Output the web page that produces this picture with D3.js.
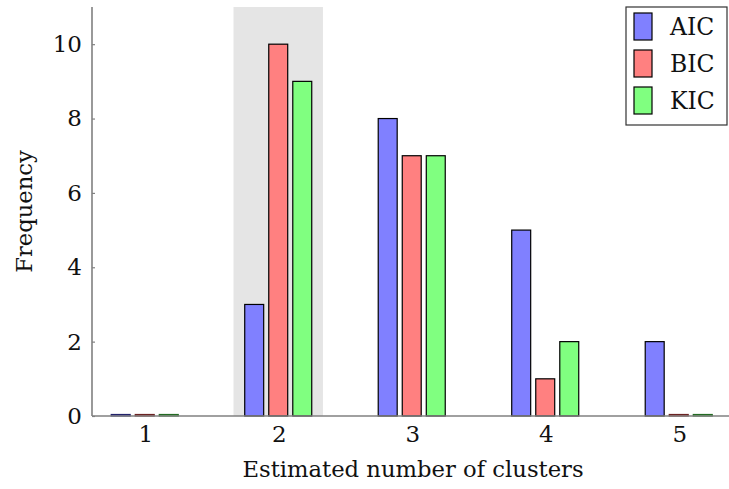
<!DOCTYPE html>
<html>
<head>
<meta charset="utf-8">
<script src="https://cdn.jsdelivr.net/npm/d3@7"></script>
<style>
body { margin: 0; background: #fff; }
text { font-family: "DejaVu Serif", serif; fill: #111; }
</style>
</head>
<body>
<div id="chart"></div>
<script>
var clusters = [1, 2, 3, 4, 5];
var seriesNames = ["AIC", "BIC", "KIC"];
var aic = [0, 3, 8, 5, 2];
var bic = [0, 10, 7, 1, 0];
var kic = [0, 9, 7, 2, 0];
var yTicks = [0, 2, 4, 6, 8, 10];
var highlight = [1.66, 2.33];

var colors = {AIC: "#8080ff", BIC: "#ff8080", KIC: "#80ff80"};
var strokes = {AIC: "#23236b", BIC: "#6b2323", KIC: "#236b23"};
var values = {AIC: aic, BIC: bic, KIC: kic};

var width = 729, height = 489;
var mLeft = 92, mTop = 7, mBottom = 416;
var fontFam = "DejaVu Serif";

var svg = d3.select("#chart").append("svg")
	.attr("width", width)
	.attr("height", height);

var x = d3.scaleLinear().domain([0.6, 5.4]).range([mLeft, mLeft + 4.8 * 133.5]);
var y = d3.scaleLinear().domain([0, 11]).range([mBottom, mTop]);

var plot = svg.append("g");

// shaded region around the true cluster count
plot.append("rect")
	.attr("x", x(highlight[0]))
	.attr("y", y(11))
	.attr("width", x(highlight[1]) - x(highlight[0]))
	.attr("height", y(0) - y(11))
	.attr("fill", "#e5e5e5");

var barW = 0.142;
var offsets = {AIC: -0.185, BIC: -0.005, KIC: 0.175};

seriesNames.forEach(function(s) {
	plot.selectAll(".bar-" + s)
		.data(values[s])
		.enter()
		.append("rect")
		.attr("class", "bar-" + s)
		.attr("x", function(d, i) { return x(clusters[i] + offsets[s] - barW / 2); })
		.attr("width", x(barW) - x(0))
		.attr("y", function(d) { return d > 0 ? y(d) : y(0) - 1.5; })
		.attr("height", function(d) { return d > 0 ? y(0) - y(d) : 1.5; })
		.attr("fill", colors[s])
		.attr("stroke", function(d) { return d > 0 ? "#000" : strokes[s]; })
		.attr("stroke-width", 1.2);
});

// axes
var yAxis = d3.axisLeft(y).tickValues(yTicks).tickSize(-3).tickPadding(10);
var yg = svg.append("g").attr("transform", "translate(" + mLeft + ",0)").call(yAxis);
yg.select(".domain").remove();
yg.selectAll("line").attr("stroke", "#808080").attr("stroke-width", 1.2);
yg.selectAll("text").attr("font-size", 23).attr("font-family", fontFam).attr("fill", "#111");

var xAxis = d3.axisBottom(x).tickValues(clusters).tickSize(0).tickPadding(10).tickFormat(d3.format("d"));
var xg = svg.append("g").attr("transform", "translate(0," + mBottom + ")").call(xAxis);
xg.select(".domain").remove();
xg.selectAll("text").attr("font-size", 23).attr("font-family", fontFam).attr("fill", "#111");

svg.append("line")
	.attr("x1", mLeft).attr("x2", mLeft)
	.attr("y1", mTop).attr("y2", mBottom)
	.attr("stroke", "#808080").attr("stroke-width", 1.6);
svg.append("line")
	.attr("x1", mLeft).attr("x2", width)
	.attr("y1", mBottom).attr("y2", mBottom)
	.attr("stroke", "#808080").attr("stroke-width", 1.6);

// axis labels
svg.append("text")
	.attr("x", 413)
	.attr("y", 477)
	.attr("text-anchor", "middle")
	.attr("font-size", 22.7)
	.text("Estimated number of clusters");

svg.append("text")
	.attr("transform", "translate(32," + ((mTop + mBottom) / 2) + ") rotate(-90)")
	.attr("text-anchor", "middle")
	.attr("font-size", 22.7)
	.text("Frequency");

// legend
var lg = svg.append("g").attr("transform", "translate(626,7)");
lg.append("rect")
	.attr("width", 101).attr("height", 118)
	.attr("fill", "#fff").attr("stroke", "#333").attr("stroke-width", 1.2);
seriesNames.forEach(function(s, i) {
	lg.append("rect")
		.attr("x", 8).attr("y", 6 + i * 37)
		.attr("width", 18).attr("height", 27)
		.attr("fill", colors[s]).attr("stroke", "#000").attr("stroke-width", 1.2);
	lg.append("text")
		.attr("x", 44).attr("y", 28 + i * 37)
		.attr("font-size", 23.5)
		.text(s);
});
</script>
</body>
</html>
